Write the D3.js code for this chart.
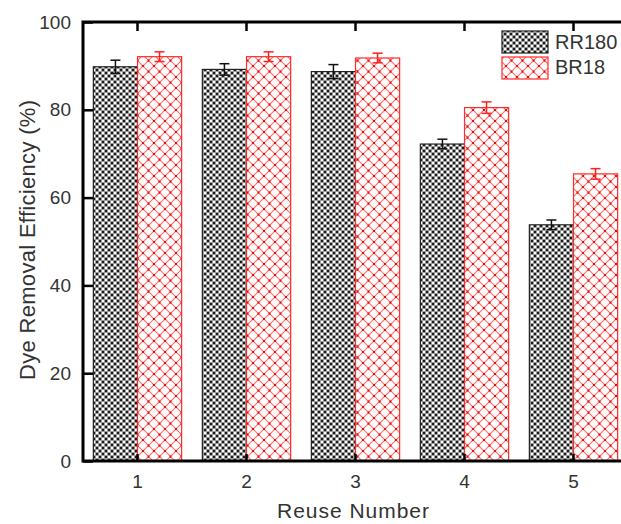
<!DOCTYPE html>
<html>
<head>
<meta charset="utf-8">
<script src="https://cdn.jsdelivr.net/npm/d3@7"></script>
<style>
  html, body { margin: 0; padding: 0; background: #fff; }
  svg { display: block; }
  text { font-family: "Liberation Sans", Arial, sans-serif; fill: #333; }
</style>
</head>
<body>
<script>
const categories = ["1", "2", "3", "4", "5"];
const seriesNames = ["RR180", "BR18"];
const rr180 = [89.8, 89.2, 88.7, 72.2, 53.8];
const rr180Err = [1.5, 1.3, 1.6, 1.1, 1.1];
const br18 = [92.1, 92.1, 91.8, 80.5, 65.4];
const br18Err = [1.1, 1.1, 1.1, 1.3, 1.2];
const yTicks = [0, 20, 40, 60, 80, 100];

const W = 621, H = 524;
const margin = { left: 83, top: 22, right: -7, bottom: 63 };
const plotR = W - margin.right, plotB = H - margin.bottom;

const svg = d3.select("body").append("svg").attr("width", W).attr("height", H);
const defs = svg.append("defs");

// dotted checker pattern for RR180
const p1 = defs.append("pattern").attr("id", "pat-rr").attr("patternUnits", "userSpaceOnUse")
  .attr("width", 6).attr("height", 6);
p1.append("rect").attr("width", 6).attr("height", 6).attr("fill", "#9c9c9c");
p1.append("rect").attr("x", 0).attr("y", 0).attr("width", 2).attr("height", 2).attr("fill", "#ffffff");
p1.append("rect").attr("x", 3).attr("y", 3).attr("width", 2).attr("height", 2).attr("fill", "#ffffff");
p1.append("rect").attr("x", 3).attr("y", 0).attr("width", 2).attr("height", 2).attr("fill", "#1a1a1a");
p1.append("rect").attr("x", 0).attr("y", 3).attr("width", 2).attr("height", 2).attr("fill", "#1a1a1a");

// red cross-hatch for BR18
const p2 = defs.append("pattern").attr("id", "pat-br").attr("patternUnits", "userSpaceOnUse")
  .attr("width", 11).attr("height", 11);
p2.append("rect").attr("width", 11).attr("height", 11).attr("fill", "#fff");
p2.append("path").attr("d", "M0,0L11,11M11,0L0,11M-1,10L1,12M10,-1L12,1M-1,1L1,-1M10,12L12,10")
  .attr("stroke", "#ff7070").attr("stroke-width", 1.2);
[[-1, -1], [4.5, 4.5], [10, 10], [10, -1], [-1, 10]].forEach(([px, py]) => {
  p2.append("rect").attr("x", px).attr("y", py).attr("width", 2).attr("height", 2).attr("fill", "#e01010");
});

const x = d3.scaleBand().domain(categories).range([margin.left, plotR]).paddingInner(0.19).paddingOuter(0.095);
const xs = d3.scaleBand().domain(seriesNames).range([0, x.bandwidth()]);
const y = d3.scaleLinear().domain([0, 100]).range([plotB, margin.top]);

const series = [
  { name: "RR180", vals: rr180, errs: rr180Err, fill: "url(#pat-rr)", stroke: "#222", err: "#111" },
  { name: "BR18", vals: br18, errs: br18Err, fill: "url(#pat-br)", stroke: "#ff2a2a", err: "#ff2020" }
];

series.forEach(s => {
  const g = svg.append("g");
  g.selectAll("rect").data(categories).join("rect")
    .attr("x", d => x(d) + xs(s.name))
    .attr("y", (d, i) => y(s.vals[i]))
    .attr("width", xs.bandwidth())
    .attr("height", (d, i) => y(0) - y(s.vals[i]))
    .attr("fill", s.fill).attr("stroke", s.stroke).attr("stroke-width", 1.2);
  const eg = g.selectAll("g.err").data(categories).join("g").attr("class", "err");
  eg.append("line")
    .attr("x1", d => x(d) + xs(s.name) + xs.bandwidth() / 2)
    .attr("x2", d => x(d) + xs(s.name) + xs.bandwidth() / 2)
    .attr("y1", (d, i) => y(s.vals[i] + s.errs[i]))
    .attr("y2", (d, i) => y(s.vals[i] - s.errs[i]))
    .attr("stroke", s.err).attr("stroke-width", 1.5);
  [1, -1].forEach(sg => {
    eg.append("line")
      .attr("x1", d => x(d) + xs(s.name) + xs.bandwidth() / 2 - 5)
      .attr("x2", d => x(d) + xs(s.name) + xs.bandwidth() / 2 + 5)
      .attr("y1", (d, i) => y(s.vals[i] + sg * s.errs[i]))
      .attr("y2", (d, i) => y(s.vals[i] + sg * s.errs[i]))
      .attr("stroke", s.err).attr("stroke-width", 1.5);
  });
});

// axes
const xAxis = d3.axisBottom(x).tickSizeInner(-7).tickSizeOuter(0).tickPadding(14);
const gx = svg.append("g").attr("transform", `translate(0,${plotB})`).call(xAxis);
gx.select(".domain").remove();
gx.selectAll(".tick line").attr("stroke", "#000").attr("stroke-width", 2.5);
gx.selectAll(".tick text").attr("font-size", 19).attr("fill", "#333").attr("dy", "0.71em");

const xTop = d3.axisTop(x).tickSizeInner(-9).tickSizeOuter(0).tickFormat("");
const gxt = svg.append("g").attr("transform", `translate(0,${margin.top})`).call(xTop);
gxt.select(".domain").remove();
gxt.selectAll(".tick line").attr("stroke", "#000").attr("stroke-width", 2.5);

const yAxis = d3.axisLeft(y).tickValues(yTicks).tickSizeInner(-10).tickSizeOuter(0).tickPadding(12);
const gy = svg.append("g").attr("transform", `translate(${margin.left},0)`).call(yAxis);
gy.select(".domain").remove();
gy.selectAll(".tick line").attr("stroke", "#000").attr("stroke-width", 2.5);
gy.selectAll(".tick text").attr("font-size", 19).attr("fill", "#333");

// frame
svg.append("rect").attr("x", margin.left).attr("y", margin.top)
  .attr("width", plotR - margin.left).attr("height", plotB - margin.top)
  .attr("fill", "none").attr("stroke", "#000").attr("stroke-width", 3);

// axis titles
svg.append("text").attr("x", 353).attr("y", 518).attr("text-anchor", "middle")
  .attr("font-size", 21).attr("textLength", 152).attr("lengthAdjust", "spacing").text("Reuse Number");
svg.append("text").attr("transform", "translate(35,240) rotate(-90)").attr("text-anchor", "middle")
  .attr("font-size", 22).attr("textLength", 280).attr("lengthAdjust", "spacing").text("Dye Removal Efficiency (%)");

// legend
const lg = svg.append("g");
series.forEach((s, i) => {
  lg.append("rect").attr("x", 502).attr("y", 31 + i * 26).attr("width", 46).attr("height", 22)
    .attr("fill", s.fill).attr("stroke", s.stroke).attr("stroke-width", 1.2);
  lg.append("text").attr("x", 555).attr("y", 49 + i * 25).attr("font-size", 20).text(s.name);
});
</script>
</body>
</html>
